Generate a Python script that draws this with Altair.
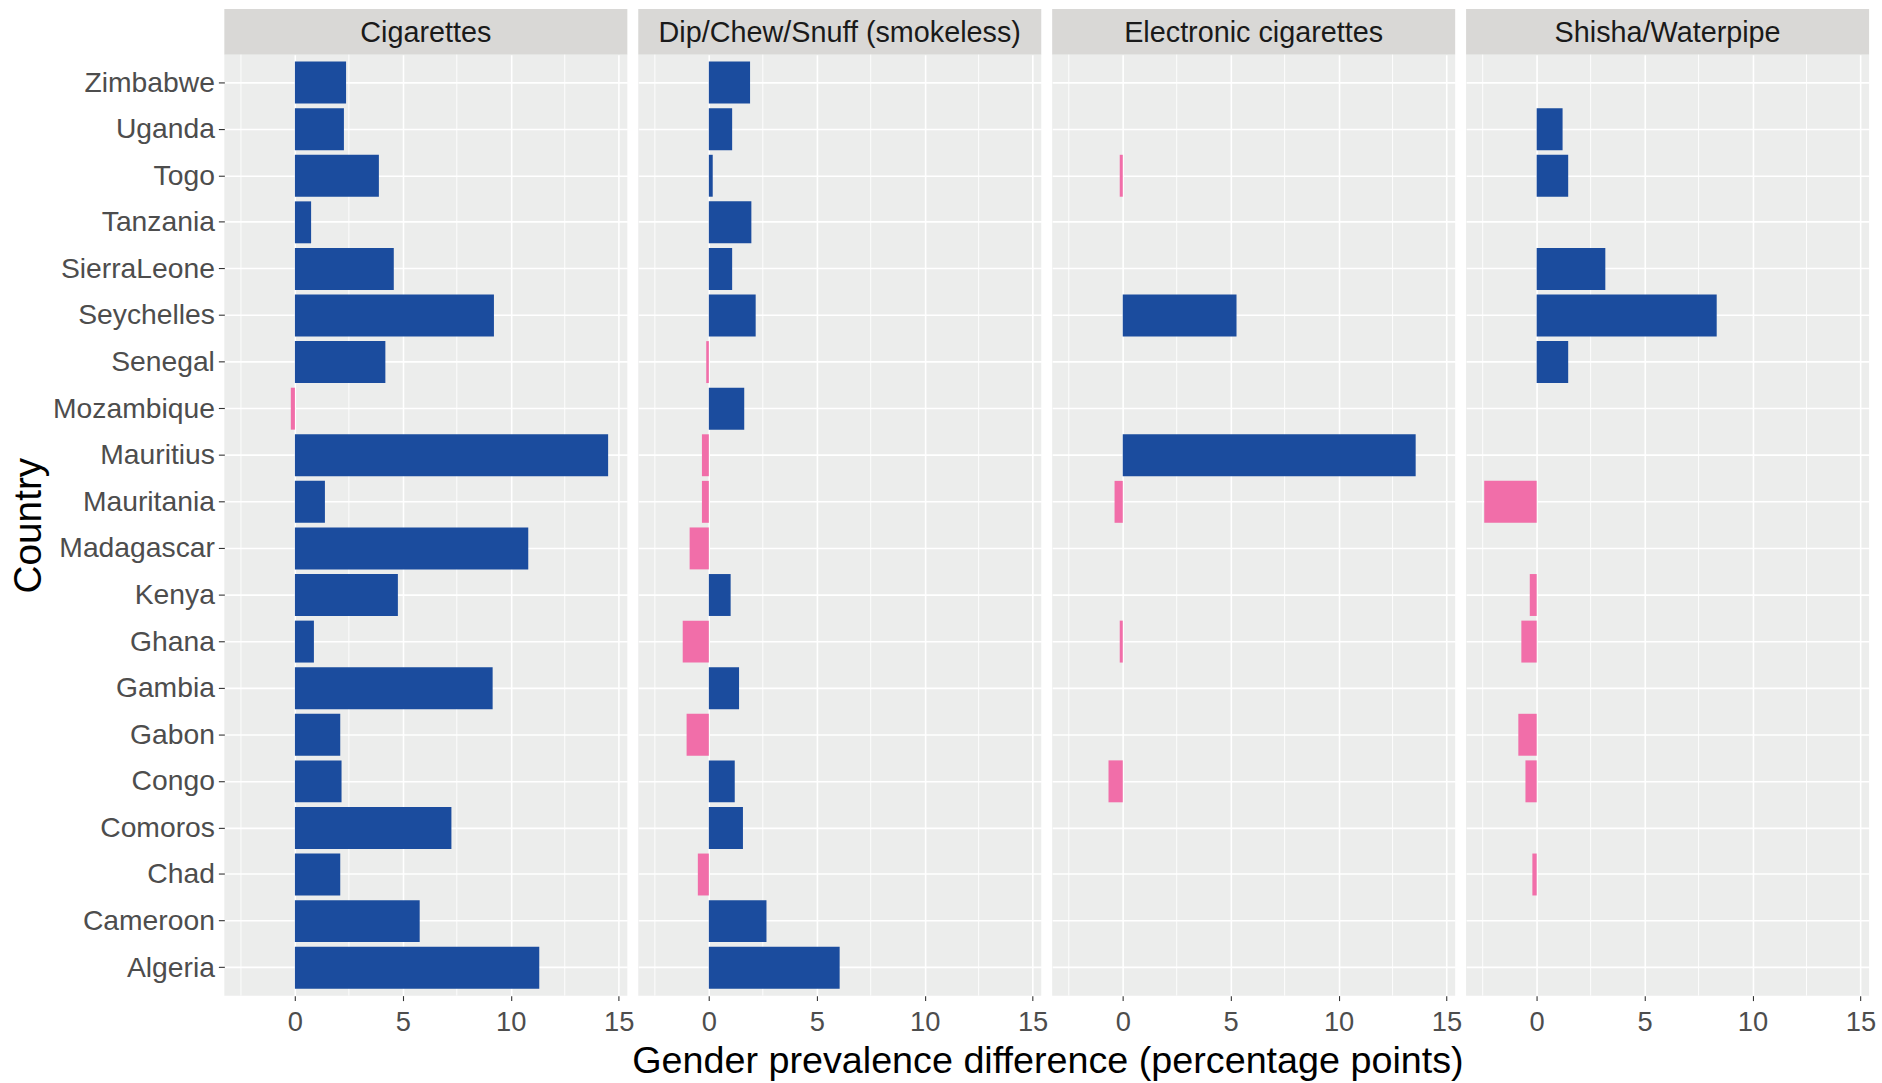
import altair as alt
import pandas as pd

FONT = "Liberation Sans"

# Countries, top to bottom
countries = [
    "Zimbabwe", "Uganda", "Togo", "Tanzania", "SierraLeone", "Seychelles",
    "Senegal", "Mozambique", "Mauritius", "Mauritania", "Madagascar", "Kenya",
    "Ghana", "Gambia", "Gabon", "Congo", "Comoros", "Chad", "Cameroon", "Algeria",
]
products = [
    "Cigarettes",
    "Dip/Chew/Snuff (smokeless)",
    "Electronic cigarettes",
    "Shisha/Waterpipe",
]

# Male minus female prevalence, percentage points (None = not reported)
cigarettes = [2.37, 2.27, 3.89, 0.75, 4.58, 9.22, 4.19, -0.19, 14.51, 1.39,
              10.81, 4.77, 0.88, 9.16, 2.10, 2.16, 7.25, 2.10, 5.78, 11.32]
smokeless = [1.91, 1.08, 0.18, 1.97, 1.08, 2.17, -0.12, 1.64, -0.32, -0.32,
             -0.89, 1.01, -1.21, 1.40, -1.03, 1.20, 1.58, -0.51, 2.67, 6.06]
e_cigarettes = [None, None, -0.14, None, None, 5.27, None, None, 13.57, -0.38,
                None, None, -0.14, None, None, -0.66, None, None, None, None]
shisha = [None, 1.20, 1.46, None, 3.18, 8.34, 1.46, None, None, -2.43,
          None, -0.32, -0.71, None, -0.85, -0.52, None, -0.20, None, None]

major_breaks = [0, 5, 10, 15]
minor_breaks = [-2.5, 2.5, 7.5, 12.5]

rows = []
for prod, series in zip(products, [cigarettes, smokeless, e_cigarettes, shisha]):
    for c, v in zip(countries, series):
        if v is not None:
            rows.append({"country": c, "product": prod, "value": v,
                         "sign": "pos" if v > 0 else "neg"})
df = pd.DataFrame(rows)

PANEL_W = 406
PANEL_H = 948
STRIP_H = 46

PANEL_BG = "#ECEDEC"
STRIP_BG = "#D9D8D6"

xscale = alt.Scale(domain=[-3.27, 15.40], nice=False, zero=False)
yscale = alt.Scale(domain=countries, paddingInner=0.1, paddingOuter=0.15)
color_scale = alt.Scale(domain=["pos", "neg"], range=["#1B4C9E", "#F16EA9"])


def x_axis():
    return alt.Axis(values=major_breaks, title=None, grid=True, gridColor="white",
                    gridWidth=1.6, domain=False, tickColor="#333333", tickSize=5,
                    tickWidth=1.1, labelFontSize=27.5, labelColor="#4D4D4D",
                    labelPadding=8, labelFont=FONT, format="d")


def y_axis(first):
    if first:
        return alt.Axis(title="Country", titleFontSize=39, titleColor="black",
                        titleFontWeight="normal", titleFont=FONT, titlePadding=4,
                        labelFontSize=28.5, labelColor="#4D4D4D", labelFont=FONT,
                        tickColor="#333333", tickSize=6, tickWidth=1.1,
                        labelPadding=4, domain=False, grid=True, gridColor="white",
                        gridWidth=1.6, bandPosition=0.5)
    return alt.Axis(title=None, labels=False, ticks=False, domain=False, grid=True,
                    gridColor="white", gridWidth=1.6, bandPosition=0.5)


def strip(prod):
    return alt.Chart(pd.DataFrame({"product": [prod]})).mark_text(
        fontSize=29, color="#1A1A1A", font=FONT, dy=1
    ).encode(text="product:N").properties(
        width=PANEL_W, height=STRIP_H,
        view=alt.ViewBackground(fill=STRIP_BG, stroke=None),
    )


def panel(prod, first):
    sub = df[df["product"] == prod]
    minor = alt.Chart(pd.DataFrame({"v": minor_breaks})).mark_rule(
        color="white", strokeWidth=0.9
    ).encode(x=alt.X("v:Q", scale=xscale, axis=x_axis()))
    bars = alt.Chart(sub).mark_bar().encode(
        x=alt.X("value:Q", scale=xscale, axis=x_axis()),
        x2=alt.datum(0),
        y=alt.Y("country:N", scale=yscale, sort=countries, axis=y_axis(first)),
        color=alt.Color("sign:N", scale=color_scale, legend=None),
    )
    return alt.layer(minor, bars).properties(
        width=PANEL_W, height=PANEL_H,
        view=alt.ViewBackground(fill=PANEL_BG, stroke=None),
    )


columns = [
    alt.vconcat(strip(p), panel(p, i == 0), spacing=0, bounds="flush")
    for i, p in enumerate(products)
]

chart = alt.hconcat(*columns, spacing=4).properties(
    title=alt.TitleParams(
        "Gender prevalence difference (percentage points)",
        orient="bottom", anchor="middle", fontSize=38, font=FONT,
        fontWeight="normal", color="black", offset=7, dx=106,
    ),
    padding={"left": 9, "top": 5, "right": 6, "bottom": 0},
).configure(font=FONT).configure_view(stroke=None)

chart.save("out.html", embed_options={"renderer": "svg", "actions": False})
